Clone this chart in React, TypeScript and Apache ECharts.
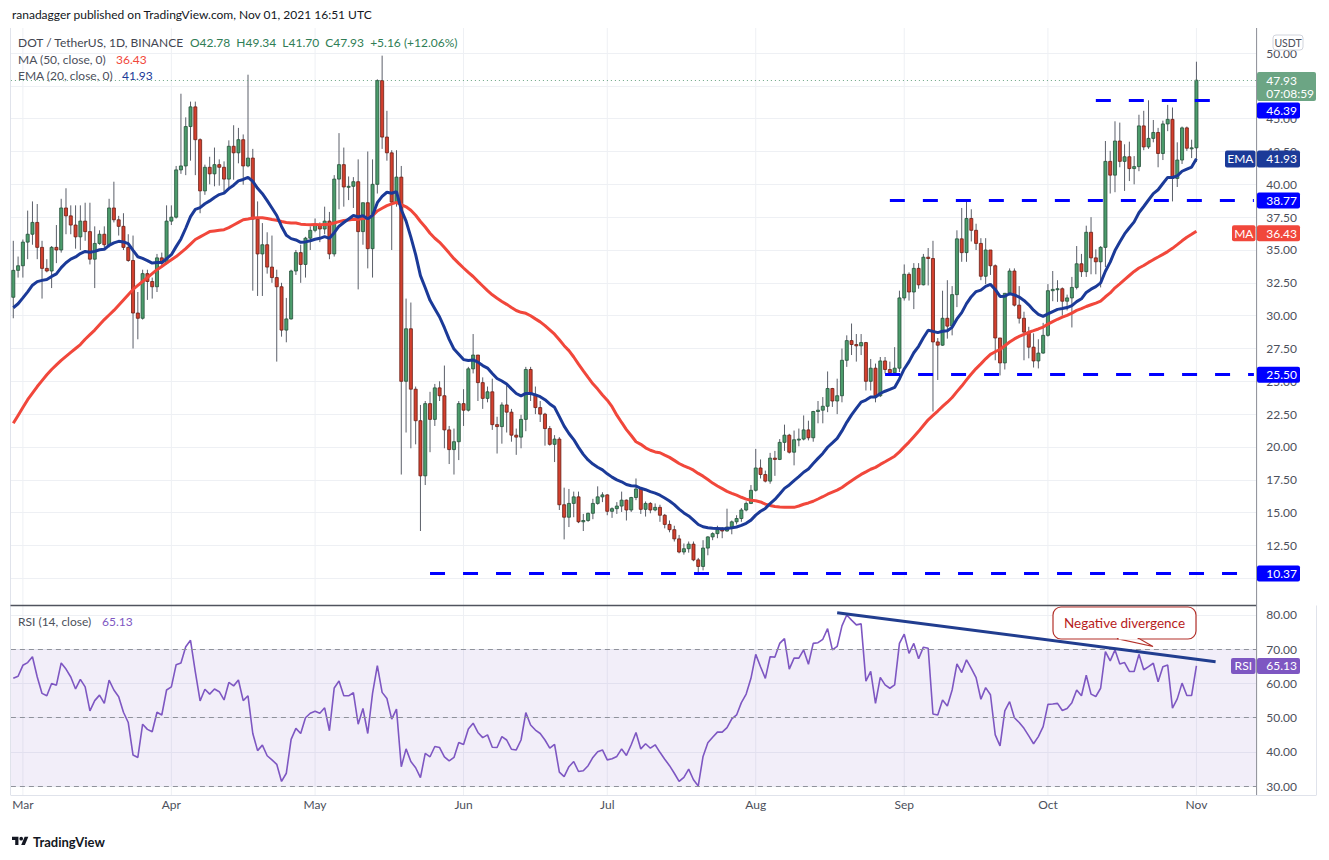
import React, { useEffect, useRef } from "react";
import * as echarts from "echarts";

// ---------- data ----------
const START_UTC = Date.UTC(2021, 1, 27); // first candle: 2021-02-27
const FUTURE_DAYS = 12; // empty space right of the last candle

const opens = [
  31.4, 33.45, 33.8, 35.6, 36.2, 37.1, 35.2, 33.6, 33.4, 35.2,
  35.0, 38.2, 37.6, 36.9, 36.0, 37.2, 36.4, 34.3, 35.5, 36.2,
  35.4, 38.2, 37.3, 36.8, 35.2, 34.2, 30.2, 29.8, 33.2, 32.6,
  32.2, 34.4, 34.0, 37.2, 37.5, 41.1, 41.4, 44.4, 45.9, 43.4,
  39.5, 41.3, 40.8, 41.5, 41.3, 40.4, 42.9, 42.4, 43.4, 41.4,
  42.0, 37.35, 34.7, 35.4, 33.7, 32.9, 32.2, 28.9, 29.75, 33.4,
  34.8, 33.9, 35.9, 36.5, 36.9, 36.6, 37.2, 34.7, 40.4, 41.5,
  39.8, 39.85, 40.2, 36.4, 38.6, 35.1, 40.0, 47.9, 43.6, 42.4,
  38.65, 40.55, 25.0, 29.0, 24.4, 22.0, 17.8, 23.3, 22.1, 24.5,
  23.9, 21.3, 19.8, 20.4, 23.3, 22.8, 25.95, 27.0, 24.9, 23.7,
  24.2, 21.7, 21.55, 23.2, 22.65, 20.9, 20.75, 22.1, 25.9, 24.0,
  23.0, 22.5, 21.4, 20.2, 20.6, 15.6, 14.65, 15.7, 16.2, 14.3,
  14.4, 14.95, 15.7, 16.2, 16.35, 15.1, 15.3, 15.5, 15.95, 15.2,
  16.15, 16.8, 15.25, 15.7, 15.2, 15.4, 14.8, 14.1, 13.7, 13.0,
  12.0, 12.25, 12.6, 11.4, 10.9, 12.3, 13.15, 13.4, 13.7, 13.6,
  13.9, 14.3, 14.55, 15.2, 15.7, 16.7, 18.4, 17.9, 17.4, 19.15,
  19.05, 20.35, 20.9, 19.6, 20.55, 20.6, 21.3, 20.7, 22.7, 22.8,
  23.1, 24.45, 23.5, 23.9, 26.6, 28.1, 27.8, 27.7, 27.95, 25.0,
  26.0, 23.9, 26.55, 25.9, 25.65, 26.0, 31.35, 33.15, 31.8, 33.6,
  32.35, 34.45, 34.35, 28.0, 27.75, 29.8, 29.2, 31.6, 35.85, 34.8,
  37.4, 36.5, 35.5, 33.0, 35.0, 33.8, 28.3, 26.4, 31.7, 33.4,
  30.8, 29.8, 28.75, 27.6, 26.55, 27.15, 28.5, 31.9, 32.0, 32.05,
  31.1, 31.35, 32.15, 33.95, 33.35, 36.35, 34.4, 34.1, 35.2, 41.75,
  40.7, 43.3, 41.75, 42.1, 41.2, 41.35, 44.45, 42.85, 43.5, 43.95,
  42.35, 44.6, 44.95, 40.45, 41.85, 44.3, 42.75, 42.78,
];

const highs = [
  35.7, 34.5, 35.8, 38.0, 38.7, 38.5, 35.7, 34.3, 35.3, 36.9,
  38.9, 39.7, 38.4, 38.4, 38.4, 38.6, 38.6, 36.8, 36.5, 36.8,
  38.9, 40.2, 37.6, 37.8, 36.2, 36.1, 31.8, 33.5, 33.5, 32.9,
  34.7, 34.8, 38.4, 38.4, 41.4, 46.9, 45.1, 46.3, 46.3, 43.5,
  41.5, 42.1, 42.8, 41.9, 41.75, 43.35, 44.5, 44.3, 43.8, 48.35,
  42.7, 38.7, 37.05, 36.35, 36.1, 33.5, 32.5, 31.35, 33.5, 35.0,
  35.4, 36.0, 36.8, 37.4, 37.1, 38.3, 37.9, 40.7, 43.9, 42.8,
  40.6, 40.55, 41.9, 38.6, 42.5, 41.9, 48.0, 49.8, 45.6, 42.6,
  42.6, 41.4, 31.3, 31.0, 24.6, 23.2, 23.5, 24.2, 24.8, 25.0,
  26.2, 21.6, 21.4, 23.5, 24.4, 26.1, 28.6, 27.0, 25.3, 24.6,
  25.2, 22.3, 23.4, 24.7, 22.9, 21.4, 22.45, 26.1, 26.1, 24.6,
  23.5, 22.6, 21.6, 20.9, 20.75, 16.9, 16.8, 16.6, 16.6, 14.9,
  15.0, 16.05, 17.0, 16.55, 16.4, 15.4, 15.8, 16.6, 16.0, 16.2,
  17.6, 16.95, 15.85, 15.8, 15.7, 15.6, 14.9, 14.4, 14.0, 13.3,
  12.65, 12.8, 12.8, 11.55, 12.9, 13.2, 13.5, 14.0, 13.9, 15.3,
  14.4, 14.8, 15.35, 15.85, 17.1, 19.85, 19.05, 18.2, 19.55, 19.7,
  20.6, 21.7, 21.0, 21.25, 21.4, 22.4, 22.0, 22.75, 23.5, 23.8,
  25.75, 24.5, 25.2, 27.5, 28.5, 29.4, 28.6, 28.6, 28.0, 26.7,
  26.35, 26.85, 26.85, 26.5, 27.6, 31.9, 33.9, 33.3, 34.0, 34.0,
  34.7, 35.15, 35.7, 28.3, 31.9, 32.7, 32.25, 36.5, 38.2, 38.85,
  38.1, 37.0, 35.9, 35.9, 35.0, 33.9, 28.3, 31.7, 33.6, 33.6,
  32.25, 30.3, 29.15, 28.65, 28.2, 29.45, 32.4, 33.4, 32.7, 32.15,
  31.6, 32.95, 35.3, 34.7, 36.85, 37.5, 35.05, 35.3, 43.3, 42.55,
  44.8, 44.7, 43.05, 43.25, 42.15, 45.3, 45.6, 46.4, 44.9, 44.3,
  44.85, 46.05, 45.85, 43.2, 44.4, 44.4, 43.4, 49.34,
];

const lows = [
  29.8, 32.9, 32.9, 34.3, 35.4, 34.3, 31.3, 33.3, 32.1, 34.0,
  34.8, 36.2, 36.2, 35.1, 35.0, 35.7, 33.9, 32.1, 35.4, 35.2,
  35.2, 37.1, 36.1, 35.0, 34.1, 27.5, 28.2, 29.7, 31.2, 31.3,
  31.8, 33.7, 33.9, 36.9, 37.4, 40.8, 40.7, 41.8, 40.7, 37.8,
  39.2, 40.0, 39.85, 39.9, 39.3, 39.7, 40.35, 41.6, 39.97, 41.3,
  31.9, 31.5, 31.5, 33.2, 32.5, 26.5, 28.4, 27.97, 29.7, 33.1,
  32.5, 32.9, 35.0, 36.35, 35.6, 36.2, 34.3, 34.5, 38.1, 38.3,
  38.8, 38.2, 32.0, 35.4, 33.6, 32.9, 39.3, 42.7, 41.8, 35.0,
  38.3, 17.9, 21.1, 19.9, 20.2, 13.6, 17.1, 19.6, 21.6, 23.5,
  19.9, 18.7, 17.9, 19.0, 21.6, 22.7, 25.6, 23.5, 22.9, 23.4,
  21.3, 19.5, 20.25, 21.1, 20.4, 19.4, 19.9, 21.2, 23.5, 22.5,
  21.9, 20.1, 20.1, 18.85, 15.2, 12.96, 13.9, 14.65, 14.2, 13.6,
  14.3, 14.5, 15.6, 15.8, 14.8, 14.6, 14.9, 15.05, 14.4, 15.05,
  15.95, 14.9, 14.7, 14.95, 15.1, 14.3, 13.8, 13.5, 12.8, 11.9,
  11.8, 11.95, 11.3, 10.35, 10.6, 11.75, 12.9, 13.05, 13.05, 13.55,
  13.35, 14.1, 14.3, 15.1, 15.65, 16.6, 17.6, 17.3, 17.2, 17.8,
  19.0, 19.7, 19.5, 18.6, 20.05, 20.5, 20.5, 20.4, 21.8, 21.8,
  22.65, 23.05, 22.5, 23.4, 26.1, 27.0, 26.5, 27.0, 24.3, 24.3,
  23.4, 23.8, 25.6, 25.4, 25.45, 25.7, 31.15, 31.15, 30.5, 32.05,
  32.3, 32.3, 22.7, 25.1, 27.7, 28.25, 28.5, 30.65, 34.1, 34.1,
  35.65, 35.0, 32.7, 32.4, 33.1, 26.6, 25.45, 25.9, 31.55, 30.7,
  29.4, 26.6, 26.75, 26.05, 25.98, 27.1, 28.4, 31.1, 31.05, 30.0,
  30.4, 29.1, 32.0, 32.95, 32.95, 33.15, 33.15, 32.15, 33.7, 39.3,
  39.4, 41.3, 39.5, 40.25, 40.0, 41.0, 42.6, 42.7, 43.2, 41.3,
  41.85, 44.05, 38.7, 39.8, 41.55, 42.55, 42.0, 41.7,
];

const closes = [
  33.45, 33.8, 35.6, 36.2, 37.1, 35.2, 33.6, 33.4, 35.2, 35.0,
  38.2, 37.6, 36.9, 36.0, 37.2, 36.4, 34.3, 35.5, 36.2, 35.4,
  38.2, 37.3, 36.8, 35.2, 34.2, 30.2, 29.8, 33.2, 32.6, 32.2,
  34.4, 34.0, 37.2, 37.5, 41.1, 41.4, 44.4, 45.9, 43.4, 39.5,
  41.3, 40.8, 41.5, 41.3, 40.4, 42.9, 42.4, 43.4, 41.4, 42.0,
  37.35, 34.7, 35.4, 33.7, 32.9, 32.2, 28.9, 29.75, 33.4, 34.8,
  33.9, 35.9, 36.5, 36.9, 36.6, 37.2, 34.7, 40.4, 41.5, 39.8,
  39.85, 40.2, 36.4, 38.6, 35.1, 40.0, 47.9, 43.6, 42.4, 38.65,
  40.55, 25.0, 29.0, 24.4, 22.0, 17.8, 23.3, 22.1, 24.5, 23.9,
  21.3, 19.8, 20.4, 23.3, 22.8, 25.95, 27.0, 24.9, 23.7, 24.2,
  21.7, 21.55, 23.2, 22.65, 20.9, 20.75, 22.1, 25.9, 24.0, 23.0,
  22.5, 21.4, 20.2, 20.6, 15.6, 14.65, 15.7, 16.2, 14.3, 14.4,
  14.95, 15.7, 16.2, 16.35, 15.1, 15.3, 15.5, 15.95, 15.2, 16.15,
  16.8, 15.25, 15.7, 15.2, 15.4, 14.8, 14.1, 13.7, 13.0, 12.0,
  12.25, 12.6, 11.4, 10.9, 12.3, 13.15, 13.4, 13.7, 13.6, 13.9,
  14.3, 14.55, 15.2, 15.7, 16.7, 18.4, 17.9, 17.4, 19.15, 19.05,
  20.35, 20.9, 19.6, 20.55, 20.6, 21.3, 20.7, 22.7, 22.8, 23.1,
  24.45, 23.5, 23.9, 26.6, 28.1, 27.8, 27.7, 27.95, 25.0, 26.0,
  23.9, 26.55, 25.9, 25.65, 26.0, 31.35, 33.15, 31.8, 33.6, 32.35,
  34.45, 34.35, 28.0, 27.75, 29.8, 29.2, 31.6, 35.85, 34.8, 37.4,
  36.5, 35.5, 33.0, 35.0, 33.8, 28.3, 26.4, 31.7, 33.4, 30.8,
  29.8, 28.75, 27.6, 26.55, 27.15, 28.5, 31.9, 32.0, 32.05, 31.1,
  31.35, 32.15, 33.95, 33.35, 36.35, 34.4, 34.1, 35.2, 41.75, 40.7,
  43.3, 41.75, 42.1, 41.2, 41.35, 44.45, 42.85, 43.5, 43.95, 42.35,
  44.6, 44.95, 40.45, 41.85, 44.3, 42.75, 42.78, 47.93,
];

// RSI(14)
const rsiValues = [
  61.5, 62.1, 65.3, 66.1, 67.8, 61.9, 57.1, 56.4, 60.0, 59.5,
  66.0, 64.2, 61.9, 58.4, 61.2, 59.0, 52.0, 55.0, 56.6, 54.2,
  61.0, 58.1, 56.1, 51.6, 48.6, 39.1, 38.4, 48.1, 46.6, 45.9,
  51.6, 50.8, 58.1, 59.0, 65.5, 66.0, 70.7, 72.6, 63.4, 54.9,
  58.3, 56.9, 58.4, 57.6, 55.2, 60.3, 59.3, 61.0, 55.0, 56.4,
  45.4, 40.4, 42.0, 38.9, 37.7, 36.4, 31.4, 33.8, 43.7, 46.9,
  45.4, 50.0, 51.3, 51.9, 51.3, 52.9, 46.2, 58.7, 60.7, 56.4,
  56.4, 57.3, 48.1, 52.7, 45.4, 57.1, 65.2, 57.4, 55.6, 49.6,
  52.5, 35.7, 40.9, 37.2, 35.4, 32.5, 39.6, 38.6, 41.6, 41.3,
  38.6, 37.4, 38.4, 42.8, 42.2, 46.7, 48.4, 45.7, 44.2, 45.0,
  41.4, 41.3, 44.5, 43.5, 40.8, 40.6, 43.5, 51.5, 47.9, 46.4,
  45.4, 43.5, 41.1, 42.2, 34.1, 32.8, 35.7, 37.2, 34.3, 34.5,
  36.0, 38.4, 40.1, 40.6, 37.7, 38.0, 38.7, 40.9, 39.0, 42.1,
  45.7, 40.9, 42.4, 41.1, 42.1, 39.9, 37.9, 36.0, 33.8, 31.4,
  32.6, 35.0, 31.9, 30.1, 38.7, 42.7, 44.3, 45.8, 45.8, 47.1,
  49.7, 50.8, 54.4, 56.9, 61.5, 68.5, 64.9, 61.5, 67.8, 67.7,
  71.7, 73.1, 64.2, 67.4, 67.4, 69.8, 65.6, 71.7, 71.9, 72.9,
  76.0, 69.8, 70.8, 76.8, 80.0, 78.5, 77.1, 77.4, 60.7, 63.5,
  54.2, 61.8, 59.6, 58.6, 59.6, 71.7, 74.4, 68.8, 71.7, 67.2,
  70.6, 70.3, 51.1, 50.8, 55.2, 53.4, 58.1, 65.7, 63.2, 66.9,
  64.4, 61.7, 55.4, 58.8, 56.7, 45.0, 41.8, 52.0, 54.7, 50.0,
  48.6, 46.9, 44.7, 42.4, 44.5, 47.4, 53.9, 54.0, 54.2, 52.1,
  52.7, 54.4, 58.1, 56.4, 62.4, 56.9, 56.2, 58.6, 69.3, 66.6,
  69.8, 65.7, 66.1, 63.5, 63.5, 68.5, 64.0, 64.9, 65.9, 60.5,
  64.9, 65.4, 52.8, 55.5, 60.1, 56.5, 56.5, 65.13,
];

// MA(50) for the first 49 bars (its history lies left of the chart)
const maEarly = [
  21.8, 22.4, 23.0, 23.6, 24.1, 24.6, 25.05, 25.5, 25.9, 26.25,
  26.6, 26.9, 27.2, 27.5, 27.8, 28.2, 28.55, 28.9, 29.3, 29.7,
  30.05, 30.4, 30.8, 31.2, 31.6, 32.0, 32.3, 32.6, 32.9, 33.2,
  33.5, 33.75, 34.0, 34.25, 34.5, 34.8, 35.1, 35.45, 35.8, 36.0,
  36.2, 36.4, 36.45, 36.5, 36.55, 36.7, 36.9, 37.1, 37.3,
];
const emaFirst = 30.6; // EMA(20) value at the first bar

const lastPrice = 47.93;
const maLast = 36.43;
const emaLast = 41.93;
const rsiLast = 65.13;
const countdown = "07:08:59";

// price-scale ticks that sit completely under a label box in the reference
const coveredTicks = [47.5, 10];

// horizontal support / resistance levels (bar index where each dashed line starts / ends)
const levels = [
  { value: 46.39, from: 226, to: 250 },
  { value: 38.77, from: 183, to: 259 },
  { value: 25.5, from: 182, to: 259 },
  { value: 10.37, from: 87, to: 259 },
];
// RSI trend line
const trendLine = { from: 172, fromValue: 80.67, to: 251, toValue: 66.36 };

const monthNames = ["Jan", "Feb", "Mar", "Apr", "May", "Jun", "Jul", "Aug", "Sep", "Oct", "Nov", "Dec"];

// ---------- styling ----------
const FONT = "Lato, 'Liberation Sans', Arial, sans-serif";
const GREEN_FILL = "#4c9c6c";
const GREEN_EDGE = "#24513a";
const RED_FILL = "#d3402e";
const RED_EDGE = "#6a1e15";
const WICK = "#5b5f69";
const EMA_COLOR = "#1b3a98";
const MA_COLOR = "#f1473b";
const RSI_COLOR = "#7e57c2";
const BLUE = "#0000ff";
const LEVEL_GREEN = "#6ca584";
const GRID = "#eef0f4";
const LABEL = "#4c505b";
const HDR_GREEN = "#2f7d55";

const PANE_TOP = 28;
const PANE_SPLIT = 605.5;
const PANE_BOTTOM = 795;
const PLOT_LEFT = 10.9;
const PLOT_WIDTH = 1245.4;
const AXIS_X = PLOT_LEFT + PLOT_WIDTH;

const tvLogoPath =
  "M14 22H7V11H0V4h14v18z M28 22h-8l7.5-18h8L28 22z M20 4a4 4 0 1 0 0 8a4 4 0 1 0 0-8z";

function buildDates(n: number): string[] {
  const out: string[] = [];
  for (let i = 0; i < n; i++) out.push(new Date(START_UTC + i * 86400000).toISOString().slice(0, 10));
  return out;
}

export default function App() {
  const ref = useRef<HTMLDivElement>(null);

  useEffect(() => {
    if (!ref.current) return;
    try {
      echarts.graphic.registerShape("tvlogo", (echarts.graphic as any).extendPath(tvLogoPath, {}));
    } catch (e) {}

    const chart = echarts.init(ref.current, null, { renderer: "svg" });
    const N = closes.length;
    const dates = buildDates(N + FUTURE_DAYS);

    // derived indicator lines
    const ema: number[] = [];
    closes.forEach((c, i) => {
      ema.push(i === 0 ? emaFirst : ema[i - 1] + (2 / 21) * (c - ema[i - 1]));
    });
    const ma = closes.map((_, i) => {
      if (i < 49) return maEarly[i];
      let s = 0;
      for (let k = i - 49; k <= i; k++) s += closes[k];
      return s / 50;
    });

    const candleData = closes.map((c, i) => [i, opens[i], c, lows[i], highs[i]]);
    const monthStarts = dates
      .map((d, i) => (d.slice(8) === "01" && i < N ? i : -1))
      .filter((i) => i >= 0);

    const option: any = {
      animation: false,
      backgroundColor: "#ffffff",
      grid: [
        { left: PLOT_LEFT, top: 20.2, width: PLOT_WIDTH, height: 590.9 },
        { left: PLOT_LEFT, top: 580.7, width: PLOT_WIDTH, height: 239.8 },
      ],
      xAxis: [
        { type: "category", gridIndex: 0, data: dates, boundaryGap: true, show: false },
        {
          type: "category",
          gridIndex: 1,
          data: dates,
          boundaryGap: true,
          offset: -25.5,
          axisLine: { show: false },
          axisTick: { show: false },
          splitLine: { show: false },
          axisLabel: {
            interval: (_: number, v: string) => v.slice(8) === "01",
            formatter: (v: string) => monthNames[Number(v.slice(5, 7)) - 1],
            color: LABEL,
            fontSize: 12,
            fontFamily: FONT,
            margin: 3,
          },
        },
      ],
      yAxis: [
        {
          type: "value",
          gridIndex: 0,
          position: "right",
          min: 7.5,
          max: 52.5,
          interval: 2.5,
          axisLine: { show: false },
          axisTick: { show: false },
          splitLine: { show: true, showMinLine: false, showMaxLine: false, lineStyle: { color: GRID, width: 1 } },
          axisLabel: {
            formatter: (v: number) =>
              v >= 12.5 && v <= 50 && coveredTicks.indexOf(v) < 0 ? v.toFixed(2) : "",
            color: LABEL,
            fontSize: 12,
            fontFamily: FONT,
            margin: 10,
            align: "left",
          },
        },
        {
          type: "value",
          gridIndex: 1,
          position: "right",
          min: 20,
          max: 90,
          interval: 10,
          axisLine: { show: false },
          axisTick: { show: false },
          splitLine: { show: true, showMinLine: false, showMaxLine: false, lineStyle: { color: GRID, width: 1 } },
          axisLabel: {
            formatter: (v: number) => (v >= 30 && v <= 80 ? v.toFixed(2) : ""),
            color: LABEL,
            fontSize: 12,
            fontFamily: FONT,
            margin: 10,
            align: "left",
          },
        },
      ],
      series: [
        {
          type: "custom",
          name: "monthGrid",
          xAxisIndex: 0,
          yAxisIndex: 0,
          z: 0,
          silent: true,
          clip: false,
          data: monthStarts.map((i) => [i, 30]),
          encode: { x: 0, y: 1 },
          renderItem: (_p: any, api: any) => {
            const p = api.coord([api.value(0), api.value(1)]);
            return {
              type: "line",
              shape: { x1: p[0], y1: PANE_TOP, x2: p[0], y2: PANE_BOTTOM },
              style: { stroke: GRID, lineWidth: 1 },
            };
          },
        },
        {
          type: "custom",
          name: "DOT/USDT",
          xAxisIndex: 0,
          yAxisIndex: 0,
          z: 2,
          silent: true,
          data: candleData,
          encode: { x: 0, y: [1, 2, 3, 4] },
          renderItem: (_p: any, api: any) => {
            const i = api.value(0);
            const o = api.value(1);
            const c = api.value(2);
            const l = api.value(3);
            const h = api.value(4);
            const pO = api.coord([i, o]);
            const pC = api.coord([i, c]);
            const pL = api.coord([i, l]);
            const pH = api.coord([i, h]);
            const bw = api.size([1, 0])[0] * 0.64;
            const up = c >= o;
            const top = Math.min(pO[1], pC[1]);
            const hh = Math.max(Math.abs(pO[1] - pC[1]), 1);
            return {
              type: "group",
              children: [
                {
                  type: "line",
                  shape: { x1: pH[0], y1: pH[1], x2: pL[0], y2: pL[1] },
                  style: { stroke: WICK, lineWidth: 1 },
                },
                {
                  type: "rect",
                  shape: { x: pO[0] - bw / 2, y: top, width: bw, height: hh },
                  style: { fill: up ? GREEN_FILL : RED_FILL, stroke: up ? GREEN_EDGE : RED_EDGE, lineWidth: 0.8 },
                },
              ],
            };
          },
        },
        {
          type: "line",
          name: "MA (50)",
          xAxisIndex: 0,
          yAxisIndex: 0,
          z: 3,
          data: ma.map((v) => +v.toFixed(3)),
          showSymbol: false,
          symbol: "none",
          silent: true,
          lineStyle: { color: MA_COLOR, width: 3 },
          markLine: {
            silent: true,
            symbol: ["none", "none"],
            label: { show: false },
            lineStyle: { color: BLUE, width: 3, type: [15, 18] },
            data: [
              ...levels.map((lv) => [
                { coord: [dates[lv.from], lv.value] },
                { coord: [dates[lv.to], lv.value] },
              ]),
              { yAxis: lastPrice, lineStyle: { color: LEVEL_GREEN, width: 1, type: [1, 3] } },
            ],
          },
        },
        {
          type: "line",
          name: "EMA (20)",
          xAxisIndex: 0,
          yAxisIndex: 0,
          z: 4,
          data: ema.map((v) => +v.toFixed(3)),
          showSymbol: false,
          symbol: "none",
          silent: true,
          lineStyle: { color: EMA_COLOR, width: 3 },
        },
        {
          type: "line",
          name: "RSI",
          xAxisIndex: 1,
          yAxisIndex: 1,
          z: 3,
          data: rsiValues,
          showSymbol: false,
          symbol: "none",
          silent: true,
          lineStyle: { color: RSI_COLOR, width: 1.6 },
          markArea: {
            silent: true,
            itemStyle: { color: "rgba(126, 87, 194, 0.1)" },
            data: [[{ yAxis: 30 }, { yAxis: 70 }]],
          },
          markLine: {
            silent: true,
            symbol: ["none", "none"],
            label: { show: false },
            lineStyle: { color: "#8f929b", width: 1, type: [5, 4] },
            data: [
              { yAxis: 70 },
              { yAxis: 50 },
              { yAxis: 30 },
              [
                {
                  coord: [dates[trendLine.from], trendLine.fromValue],
                  lineStyle: { color: "#213d8f", width: 3, type: "solid" },
                },
                { coord: [dates[trendLine.to], trendLine.toValue] },
              ],
            ],
          },
        },
      ],
    };

    chart.setOption(option);

    const yP = (v: number) => chart.convertToPixel({ yAxisIndex: 0 } as any, v) as number;
    const yR = (v: number) => chart.convertToPixel({ yAxisIndex: 1 } as any, v) as number;

    const T = (x: number, y: number, text: string, fill: string, size = 12, extra: any = {}) => ({
      type: "text",
      x,
      y,
      z: 100,
      silent: true,
      style: {
        text,
        fill,
        fontSize: size,
        fontFamily: FONT,
        align: extra.align || "left",
        textAlign: extra.align || "left",
        verticalAlign: "middle",
        textVerticalAlign: "middle",
        fontWeight: extra.fontWeight || "normal",
      },
    });
    const R = (x: number, y: number, w: number, h: number, fill: string, r = 2, extra: any = {}) => ({
      type: "rect",
      z: 99,
      silent: true,
      shape: { x, y, width: w, height: h, r },
      style: { fill, ...extra },
    });
    const L = (x1: number, y1: number, x2: number, y2: number, stroke: string, lw = 1) => ({
      type: "line",
      z: 98,
      silent: true,
      shape: { x1, y1, x2, y2 },
      style: { stroke, lineWidth: lw },
    });

    const g: any[] = [];
    // frame lines
    g.push(L(10.5, PANE_TOP, 10.5, PANE_BOTTOM, "#e0e3eb"));
    g.push(L(10.5, PANE_SPLIT, AXIS_X, PANE_SPLIT, "#50535e", 1.5));
    g.push(L(AXIS_X + 0.3, PANE_TOP, AXIS_X + 0.3, PANE_BOTTOM, "#8a8d96"));
    g.push(L(10.5, PANE_BOTTOM + 0.5, 1316.5, PANE_BOTTOM + 0.5, "#e0e3eb"));
    g.push(L(1316.5, PANE_SPLIT, 1316.5, PANE_BOTTOM, "#e0e3eb"));

    // top texts
    g.push(T(12, 14, "ranadagger published on TradingView.com, Nov 01, 2021 16:51 UTC", "#131722", 12));
    g.push({
      type: "text",
      x: 18,
      y: 42.5,
      z: 100,
      silent: true,
      style: {
        text:
          "{t|DOT / TetherUS, 1D, BINANCE}  {g|O42.78}  {g|H49.34}  {g|L41.70}  {g|C47.93}  {g|+5.16 (+12.06%)}",
        fontSize: 12,
        fontFamily: FONT,
        align: "left",
        textAlign: "left",
        verticalAlign: "middle",
        textVerticalAlign: "middle",
        fill: "#434651",
        rich: {
          t: { fill: "#434651", fontSize: 12, fontFamily: FONT },
          g: { fill: HDR_GREEN, fontSize: 12, fontFamily: FONT },
        },
      },
    });
    g.push(T(18, 59, "MA (50, close, 0)", LABEL, 12));
    g.push(T(116, 59, maLast.toFixed(2), MA_COLOR, 12));
    g.push(T(18, 75, "EMA (20, close, 0)", LABEL, 12));
    g.push(T(122, 75, emaLast.toFixed(2), EMA_COLOR, 12));
    g.push(T(18, 621, "RSI (14, close)", LABEL, 12));
    g.push(T(102, 621, rsiLast.toFixed(2), RSI_COLOR, 12));

    // USDT tag
    g.push(R(1273, 35, 30, 15, "#ffffff", 3, { stroke: "#d1d4dc", lineWidth: 1 }));
    g.push(T(1288, 42.5, "USDT", LABEL, 10.5, { align: "center" }));

    const BX = AXIS_X + 0.7;
    const TX = AXIS_X + 10;
    // last price box
    const yLast = yP(lastPrice);
    g.push(R(BX, yLast - 8.2, 59, 29, LEVEL_GREEN, 2));
    g.push(T(TX, yLast, lastPrice.toFixed(2), "#ffffff", 12));
    g.push(T(TX, yLast + 13.5, countdown, "#ffffff", 12));
    const lastBoxBottom = yLast - 8.2 + 29;

    // level boxes
    levels.forEach((lv) => {
      let top = yP(lv.value) - 8;
      if (top < lastBoxBottom + 1 && top + 16 > yLast - 8.2) top = lastBoxBottom + 1.5;
      g.push(R(BX, top, 43, 16, BLUE, 2));
      g.push(T(TX, top + 8, lv.value.toFixed(2), "#ffffff", 12));
    });

    // EMA box
    const yE = yP(emaLast);
    g.push(R(1225, yE - 8.5, 30.5, 17, EMA_COLOR, 2));
    g.push(T(1240.3, yE, "EMA", "#ffffff", 12, { align: "center" }));
    g.push(R(BX, yE - 8.5, 43, 17, EMA_COLOR, 2));
    g.push(T(TX, yE, emaLast.toFixed(2), "#ffffff", 12));

    // MA box
    const yM = yP(maLast) + 2;
    g.push(R(1232, yM - 8, 23.5, 16, MA_COLOR, 2));
    g.push(T(1243.8, yM, "MA", "#ffffff", 12, { align: "center" }));
    g.push(R(BX, yM - 8, 43, 16, MA_COLOR, 2));
    g.push(T(TX, yM, maLast.toFixed(2), "#ffffff", 12));

    // RSI box
    const yRs = yR(rsiLast);
    g.push(R(1231, yRs - 8, 24.5, 16, RSI_COLOR, 2));
    g.push(T(1243.3, yRs, "RSI", "#ffffff", 12, { align: "center" }));
    g.push(R(BX, yRs - 8, 43, 16, RSI_COLOR, 2));
    g.push(T(TX, yRs, rsiLast.toFixed(2), "#ffffff", 12));

    // callout
    const calloutRed = "#b3312a";
    g.push(R(1053, 607, 143, 32, "#ffffff", 8, { stroke: calloutRed, lineWidth: 1.2 }));
    g.push({
      type: "polygon",
      z: 100,
      silent: true,
      shape: { points: [[1117, 638.6], [1153, 646.5], [1139, 638.6]] },
      style: { fill: "#ffffff", stroke: calloutRed, lineWidth: 1.2 },
    });
    g.push({
      type: "line",
      z: 101,
      silent: true,
      shape: { x1: 1118.6, y1: 638.6, x2: 1137.6, y2: 638.6 },
      style: { stroke: "#ffffff", lineWidth: 2 },
    });
    g.push({ ...T(1124.5, 623, "Negative divergence", "#b71c1c", 13.5, { align: "center" }), z: 102 });

    // TradingView logo + wordmark
    g.push({ type: "tvlogo", x: 12, y: 835, scaleX: 0.46, scaleY: 0.46, z: 100, silent: true, style: { fill: "#131722" } });
    g.push(T(33, 842, "TradingView", "#131722", 13, { fontWeight: "bold" }));

    chart.setOption({ graphic: g });

    return () => chart.dispose();
  }, []);

  return (
    <div
      ref={ref}
      style={{ position: "fixed", left: 0, top: 0, width: 1329, height: 860, background: "#ffffff" }}
    />
  );
}
